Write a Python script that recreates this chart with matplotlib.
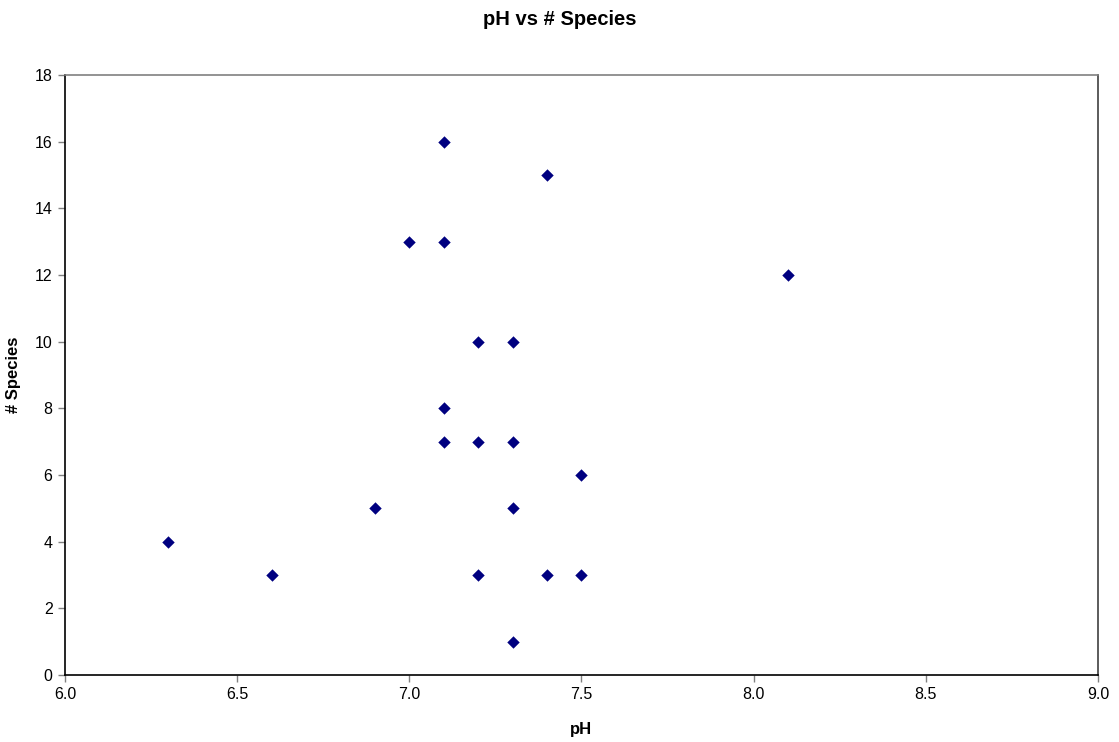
import matplotlib
matplotlib.use("Agg")
import matplotlib.pyplot as plt

# pH readings and species counts per sample site
ph = [6.3, 6.6, 6.9, 7.0, 7.1, 7.1, 7.1, 7.1, 7.2, 7.2, 7.2,
      7.3, 7.3, 7.3, 7.3, 7.4, 7.4, 7.5, 7.5, 8.1]
species = [4, 3, 5, 13, 16, 13, 8, 7, 10, 7, 3,
           10, 7, 5, 1, 15, 3, 6, 3, 12]

x_ticks = [6.0, 6.5, 7.0, 7.5, 8.0, 8.5, 9.0]
y_ticks = list(range(0, 19, 2))

plt.rcParams['font.family'] = ['Liberation Sans', 'DejaVu Sans']

fig = plt.figure(figsize=(11.19, 7.42), dpi=100)
ax = fig.add_axes([0.0581, 0.0903, 0.9231, 0.8086])

ax.scatter(ph, species, marker="D", s=40, color="#000080", linewidths=0, zorder=3)

ax.set_xlim(6.0, 9.0)
ax.set_ylim(0, 18)
ax.set_xticks(x_ticks)
ax.set_xticklabels([f"{t:.1f}" for t in x_ticks])
ax.set_yticks(y_ticks)

ax.tick_params(direction="out", length=5, width=1, color="#808080",
               labelsize=11.5, pad=4)
ax.spines["left"].set_color("black")
ax.spines["bottom"].set_color("black")
ax.spines["top"].set_color("#808080")
ax.spines["right"].set_color("#404040")
for s in ax.spines.values():
    s.set_linewidth(1.2)

ax.set_xlabel("pH", fontsize=12, fontweight="bold", labelpad=14)
ax.set_ylabel("# Species", fontsize=12, fontweight="bold", labelpad=10)
fig.suptitle("pH vs # Species", fontsize=14.5, fontweight="bold", y=0.986)

fig.savefig("out.png", dpi=100)
